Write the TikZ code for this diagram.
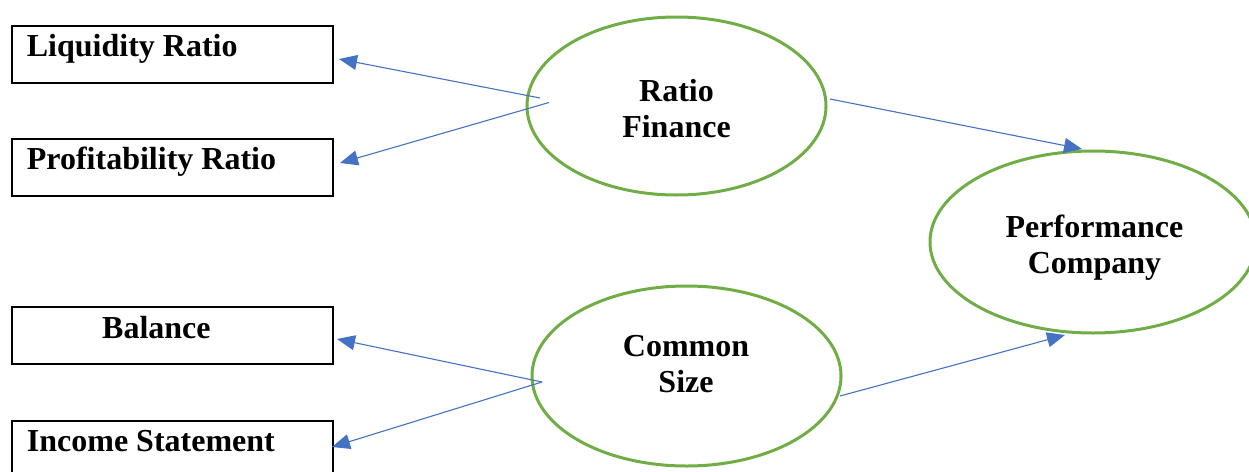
\documentclass[tikz,border=0pt]{standalone}
\usepackage{fontspec}
\setmainfont{Liberation Serif}
\usetikzlibrary{arrows.meta,shapes.geometric}
\definecolor{arrowblue}{HTML}{4472C4}
\definecolor{ellgreen}{HTML}{70AD47}
\begin{document}
\begin{tikzpicture}[x=1pt,y=-1pt,
  box/.style={draw=black,line width=1.3pt,rectangle,inner sep=0pt,minimum width=321pt,minimum height=57pt},
  oval/.style={draw=ellgreen,line width=3pt,ellipse,inner sep=0pt},
  lbl/.style={inner sep=0pt,anchor=base,font=\fontsize{32}{36}\selectfont\bfseries},
  lbll/.style={lbl,anchor=base west},
  conn/.style={draw=arrowblue,line width=1.1pt,-{Triangle[length=18pt,width=15pt]}}]
\useasboundingbox (0,0) rectangle (1249,471);
% boxes
\node[box] (liq) at (172.5,54.5) {};
\node[box] (prof) at (172.5,167.5) {};
\node[box] (bal) at (172.5,335.5) {};
\node[box] (inc) at (172.5,449.5) {};
\node[lbll] (liqt) at (26.7,56.5) {Liquidity Ratio};
\node[lbll] (proft) at (26.7,169) {Profitability Ratio};
\node[lbll] (balt) at (102,338) {Balance};
\node[lbll] (inct) at (26.7,451) {Income Statement};
% ellipses
\node[oval,minimum width=299pt,minimum height=178pt] (rf) at (676.5,106) {};
\node[oval,minimum width=309pt,minimum height=180pt] (cs) at (686.5,376) {};
\node[oval,minimum width=326pt,minimum height=182pt] (pc) at (1093,242) {};
\node[lbl] (rf1) at (676.5,101) {Ratio};
\node[lbl] (rf2) at (676.5,137) {Finance};
\node[lbl] (cs1) at (686,356) {Common};
\node[lbl] (cs2) at (686,392) {Size};
\node[lbl] (pc1) at (1094.5,237) {Performance};
\node[lbl] (pc2) at (1094.5,273) {Company};
% connector ends
\coordinate (rfa) at (540,98);
\coordinate (rfb) at (549,102.5);
\coordinate (rfc) at (830,99);
\coordinate (csa) at (542,382);
\coordinate (csc) at (840,396);
\coordinate (liqtip) at (339,59);
\coordinate (proftip) at (340,163);
\coordinate (baltip) at (337,339);
\coordinate (inctip) at (332,447);
\coordinate (pctopa) at (1082,149);
\coordinate (pctopb) at (1065,335);
\draw[conn] (rfa) -- (liqtip);
\draw[conn] (rfb) -- (proftip);
\draw[conn] (csa) -- (baltip);
\draw[conn] (csa) -- (inctip);
\draw[conn] (rfc) -- (pctopa);
\draw[conn] (csc) -- (pctopb);
\end{tikzpicture}
\end{document}
